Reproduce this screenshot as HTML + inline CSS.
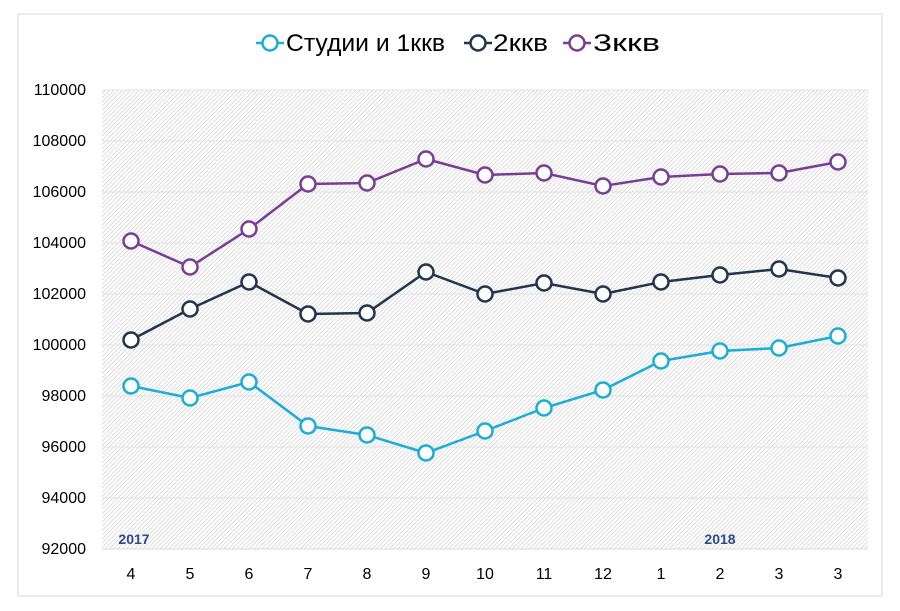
<!DOCTYPE html>
<html><head><meta charset="utf-8"><style>
body{margin:0;background:#fff;}
svg{display:block;font-family:"Liberation Sans","DejaVu Sans",sans-serif;}
</style></head><body>
<svg width="900" height="611" viewBox="0 0 900 611">
<defs>
<pattern id="h" width="3" height="3" patternUnits="userSpaceOnUse" patternTransform="rotate(45)">
<rect width="3" height="3" fill="#fff"/><line x1="0" y1="0" x2="0" y2="3" stroke="#c8c8c8" stroke-width="1.2"/>
</pattern>
</defs>
<rect x="18" y="14" width="864" height="582" fill="#fff" stroke="#d9d9d9"/>
<rect x="102" y="90" width="766" height="459" fill="url(#h)"/>
<g stroke="#e0e0e0" stroke-width="1">
<line x1="102" y1="141" x2="868" y2="141"/><line x1="102" y1="192" x2="868" y2="192"/>
<line x1="102" y1="243" x2="868" y2="243"/><line x1="102" y1="294" x2="868" y2="294"/>
<line x1="102" y1="345" x2="868" y2="345"/><line x1="102" y1="396" x2="868" y2="396"/>
<line x1="102" y1="447" x2="868" y2="447"/><line x1="102" y1="498" x2="868" y2="498"/>
<line x1="102" y1="90" x2="868" y2="90"/>
</g>
<line x1="102" y1="549" x2="868" y2="549" stroke="#d9d9d9"/>
<g font-size="16" fill="#000" text-anchor="end">
<text x="86" y="95">110000</text><text x="86" y="146">108000</text><text x="86" y="197">106000</text>
<text x="86" y="248">104000</text><text x="86" y="299">102000</text><text x="86" y="350">100000</text>
<text x="86" y="401">98000</text><text x="86" y="452">96000</text><text x="86" y="503">94000</text>
<text x="86" y="554">92000</text>
</g>
<g font-size="16" fill="#000" text-anchor="middle">
<text x="131" y="579">4</text><text x="190" y="579">5</text><text x="249" y="579">6</text><text x="308" y="579">7</text>
<text x="367" y="579">8</text><text x="426" y="579">9</text><text x="485" y="579">10</text><text x="544" y="579">11</text>
<text x="603" y="579">12</text><text x="661" y="579">1</text><text x="720" y="579">2</text><text x="779" y="579">3</text>
<text x="838" y="579">3</text>
</g>
<text x="134" y="544" font-size="14" font-weight="bold" fill="#2e4a8a" text-anchor="middle">2017</text>
<text x="720" y="544" font-size="14" font-weight="bold" fill="#2e4a8a" text-anchor="middle">2018</text>
<g fill="#fff" stroke-width="2.5">
<polyline fill="none" stroke="#1aaed6" points="131,386 190,398 249,382 308,426 367,435 426,453 485,431 544,408 603,390 661,361 720,351 779,348 838,336"/>
<polyline fill="none" stroke="#1f3550" points="131,340 190,309 249,282 308,314 367,313 426,272 485,294 544,283 603,294 661,282 720,275 779,269 838,278"/>
<polyline fill="none" stroke="#7a3d96" points="131,241 190,267 249,229 308,184 367,183 426,159 485,175 544,173 603,186 661,177 720,174 779,173 838,162"/>
<g stroke="#1aaed6"><circle cx="131" cy="386" r="7.5"/><circle cx="190" cy="398" r="7.5"/><circle cx="249" cy="382" r="7.5"/><circle cx="308" cy="426" r="7.5"/><circle cx="367" cy="435" r="7.5"/><circle cx="426" cy="453" r="7.5"/><circle cx="485" cy="431" r="7.5"/><circle cx="544" cy="408" r="7.5"/><circle cx="603" cy="390" r="7.5"/><circle cx="661" cy="361" r="7.5"/><circle cx="720" cy="351" r="7.5"/><circle cx="779" cy="348" r="7.5"/><circle cx="838" cy="336" r="7.5"/></g>
<g stroke="#1f3550"><circle cx="131" cy="340" r="7.5"/><circle cx="190" cy="309" r="7.5"/><circle cx="249" cy="282" r="7.5"/><circle cx="308" cy="314" r="7.5"/><circle cx="367" cy="313" r="7.5"/><circle cx="426" cy="272" r="7.5"/><circle cx="485" cy="294" r="7.5"/><circle cx="544" cy="283" r="7.5"/><circle cx="603" cy="294" r="7.5"/><circle cx="661" cy="282" r="7.5"/><circle cx="720" cy="275" r="7.5"/><circle cx="779" cy="269" r="7.5"/><circle cx="838" cy="278" r="7.5"/></g>
<g stroke="#7a3d96"><circle cx="131" cy="241" r="7.5"/><circle cx="190" cy="267" r="7.5"/><circle cx="249" cy="229" r="7.5"/><circle cx="308" cy="184" r="7.5"/><circle cx="367" cy="183" r="7.5"/><circle cx="426" cy="159" r="7.5"/><circle cx="485" cy="175" r="7.5"/><circle cx="544" cy="173" r="7.5"/><circle cx="603" cy="186" r="7.5"/><circle cx="661" cy="177" r="7.5"/><circle cx="720" cy="174" r="7.5"/><circle cx="779" cy="173" r="7.5"/><circle cx="838" cy="162" r="7.5"/></g>
</g>
<g font-size="24" fill="#000">
<line x1="256" y1="43" x2="284" y2="43" stroke="#1aaed6" stroke-width="2.5"/><circle cx="270" cy="43" r="7.5" fill="#fff" stroke="#1aaed6" stroke-width="2.5"/>
<text x="286" y="51" textLength="159" lengthAdjust="spacingAndGlyphs">Студии и 1ккв</text>
<line x1="464" y1="43" x2="492" y2="43" stroke="#1f3550" stroke-width="2.5"/><circle cx="478" cy="43" r="7.5" fill="#fff" stroke="#1f3550" stroke-width="2.5"/>
<text x="493" y="51" textLength="55" lengthAdjust="spacingAndGlyphs">2ккв</text>
<line x1="563" y1="43" x2="591" y2="43" stroke="#7a3d96" stroke-width="2.5"/><circle cx="577" cy="43" r="7.5" fill="#fff" stroke="#7a3d96" stroke-width="2.5"/>
<text x="593" y="51" textLength="67" lengthAdjust="spacingAndGlyphs">3ккв</text>
</g>
</svg>
</body></html>
